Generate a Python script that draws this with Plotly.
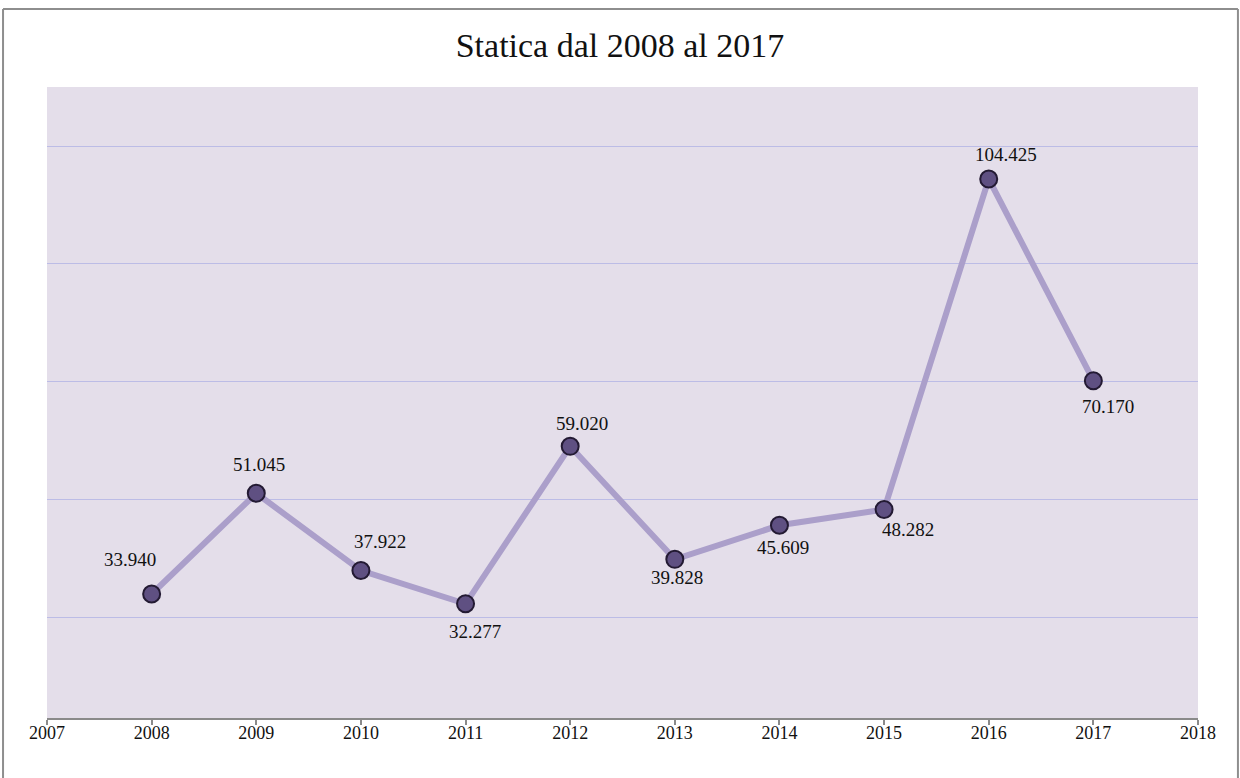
import plotly.graph_objects as go

years = [2008, 2009, 2010, 2011, 2012, 2013, 2014, 2015, 2016, 2017]
values = [33940, 51045, 37922, 32277, 59020, 39828, 45609, 48282, 104425, 70170]
x_ticks = list(range(2007, 2019))
title_text = "Statica dal 2008 al 2017"

# label offsets (style): pixel shifts for each data label
label_dx = [-22, 3, 19, 9, 12, 2, 4, 24, 17, 15]
label_dy = [35, 29, 29, -28, 23, -18, -22, -20, 25, -26]

labels = [f"{v:,}".replace(",", ".") for v in values]

fig = go.Figure()
fig.add_trace(go.Scatter(
    x=years, y=values, mode="lines+markers",
    line=dict(color="#ab9fca", width=6),
    marker=dict(size=17, color="#5f5082", line=dict(color="#231a33", width=2)),
    hoverinfo="skip", showlegend=False,
))

for x, y, t, dx, dy in zip(years, values, labels, label_dx, label_dy):
    fig.add_annotation(x=x, y=y, text=t, showarrow=False, xshift=dx, yshift=dy,
                       font=dict(family="Liberation Serif", size=19, color="#111111"))

# outer border
border = dict(color="#8e8e8e", width=2)
fig.add_shape(type="line", xref="paper", yref="paper", x0=-0.0382, x1=-0.0382, y0=-0.2, y1=1.1236, line=border)
fig.add_shape(type="line", xref="paper", yref="paper", x0=1.0347, x1=1.0347, y0=-0.2, y1=1.1236, line=border)
fig.add_shape(type="line", xref="paper", yref="paper", x0=-0.0382, x1=1.0347, y0=1.1236, y1=1.1236, line=border)

fig.update_layout(
    width=1240, height=778,
    margin=dict(l=47, r=42, t=87, b=60),
    paper_bgcolor="white",
    plot_bgcolor="#e4deea",
    title=dict(text=title_text, x=0.5, xanchor="center", y=0.942, yanchor="middle",
               font=dict(family="Liberation Serif", size=34, color="#111111")),
    xaxis=dict(range=[2007, 2018], tickmode="array", tickvals=x_ticks,
               ticktext=[str(t) for t in x_ticks],
               showgrid=False, zeroline=False, showline=True, linecolor="#8a8a8a", linewidth=1.5,
               ticks="outside", ticklen=5, tickcolor="#8a8a8a", tickwidth=1.5,
               ticklabelstandoff=-7,
               tickfont=dict(family="Liberation Serif", size=18, color="#111111")),
    yaxis=dict(range=[12880, 120050], tickmode="array", tickvals=[30000, 50000, 70000, 90000, 110000],
               showticklabels=False, showgrid=True, gridcolor="#bcbce6", gridwidth=1.2,
               zeroline=False, showline=False),
)

fig.write_html("out.html")
